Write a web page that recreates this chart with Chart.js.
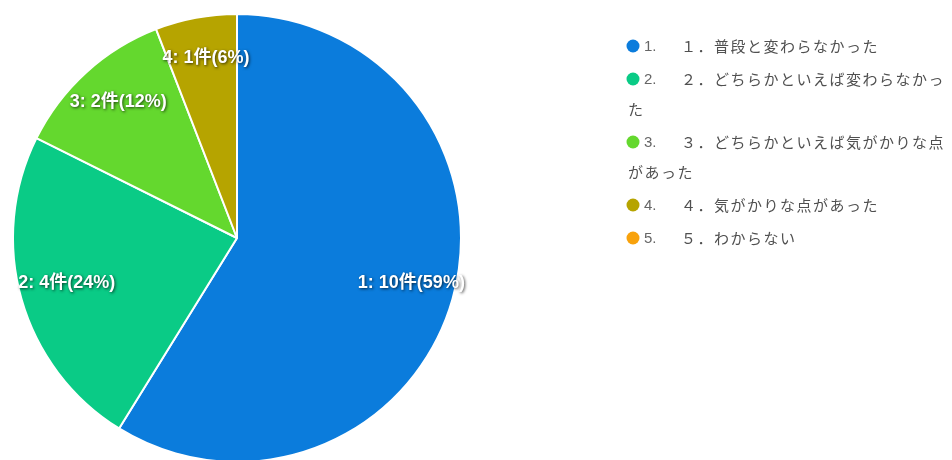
<!DOCTYPE html>
<html><head><meta charset="utf-8">
<script src="https://cdn.jsdelivr.net/npm/chart.js@4.4.1/dist/chart.umd.min.js"></script>
<style>
html,body{margin:0;padding:0;background:#fff;overflow:hidden;width:952px;height:460px;}
#wrap{position:relative;width:952px;height:470px;}
</style></head>
<body>
<div id="wrap"><canvas id="c"></canvas></div>
<script>
const codes = ['1.', '2.', '3.', '4.', '5.'];
const categories = ['１．普段と変わらなかった', '２．どちらかといえば変わらなかった', '３．どちらかといえば気がかりな点があった', '４．気がかりな点があった', '５．わからない'];
const counts = [10, 4, 2, 1, 0];
const colors = ['#0b7cdc', '#0acb86', '#64d82e', '#b6a400', '#f8a20c'];
const unit = '件';

const total = counts.reduce((a, b) => a + b, 0);

const labelPlugin = {
  id: 'sliceLabels',
  afterDatasetsDraw(chart) {
    const ctx = chart.ctx;
    const meta = chart.getDatasetMeta(0);
    ctx.save();
    ctx.font = 'bold 18px "Liberation Sans", Arial, "Noto Sans CJK JP", sans-serif';
    ctx.textAlign = 'center';
    ctx.textBaseline = 'middle';
    ctx.fillStyle = '#ffffff';
    ctx.shadowColor = 'rgba(0,0,0,0.7)';
    ctx.shadowBlur = 3;
    ctx.shadowOffsetX = 1;
    ctx.shadowOffsetY = 1;
    meta.data.forEach((arc, i) => {
      if (!counts[i]) return;
      const p = arc.getProps(['x', 'y', 'startAngle', 'endAngle', 'outerRadius'], true);
      const mid = (p.startAngle + p.endAngle) / 2;
      const r = p.outerRadius * 0.8;
      const x = p.x + Math.cos(mid) * r + 2;
      const y = p.y + Math.sin(mid) * r - 4;
      const pct = Math.round(counts[i] / total * 100);
      ctx.fillText((i + 1) + ': ' + counts[i] + unit + '(' + pct + '%)', x, y);
    });
    ctx.restore();
  }
};

const legendPlugin = {
  id: 'wrapLegend',
  afterDraw(chart) {
    const ctx = chart.ctx;
    const markerX = 633, numX = 644, textX = 681, wrapX = 628, rightLimit = 951;
    const lineH = 30, itemGap = 33, spacing = 1.5;
    let y = 46;
    ctx.save();
    ctx.textBaseline = 'middle';
    categories.forEach((cat, i) => {
      ctx.fillStyle = colors[i];
      ctx.beginPath();
      ctx.arc(markerX, y, 6.5, 0, Math.PI * 2);
      ctx.fill();
      ctx.fillStyle = '#666666';
      ctx.textAlign = 'left';
      ctx.font = '15px "Liberation Sans", Arial, sans-serif';
      ctx.fillText(codes[i], numX, y + 1);
      ctx.font = '15px "Noto Sans CJK JP", sans-serif';
      ctx.fillStyle = '#505050';
      let x = textX;
      for (const ch of cat) {
        const w = ctx.measureText(ch).width;
        if (x + w > rightLimit) { y += lineH; x = wrapX; }
        ctx.fillText(ch, x, y);
        x += w + spacing;
      }
      y += itemGap;
    });
    ctx.restore();
  }
};

new Chart(document.getElementById('c'), {
  type: 'pie',
  data: {
    labels: categories,
    datasets: [{
      data: counts,
      backgroundColor: colors,
      borderColor: '#ffffff',
      borderWidth: 2
    }]
  },
  options: {
    responsive: true,
    maintainAspectRatio: false,
    animation: false,
    layout: { padding: { left: 12, top: 13, right: 490, bottom: 7 } },
    plugins: { legend: { display: false }, tooltip: { enabled: false } }
  },
  plugins: [labelPlugin, legendPlugin]
});
</script>
</body></html>
